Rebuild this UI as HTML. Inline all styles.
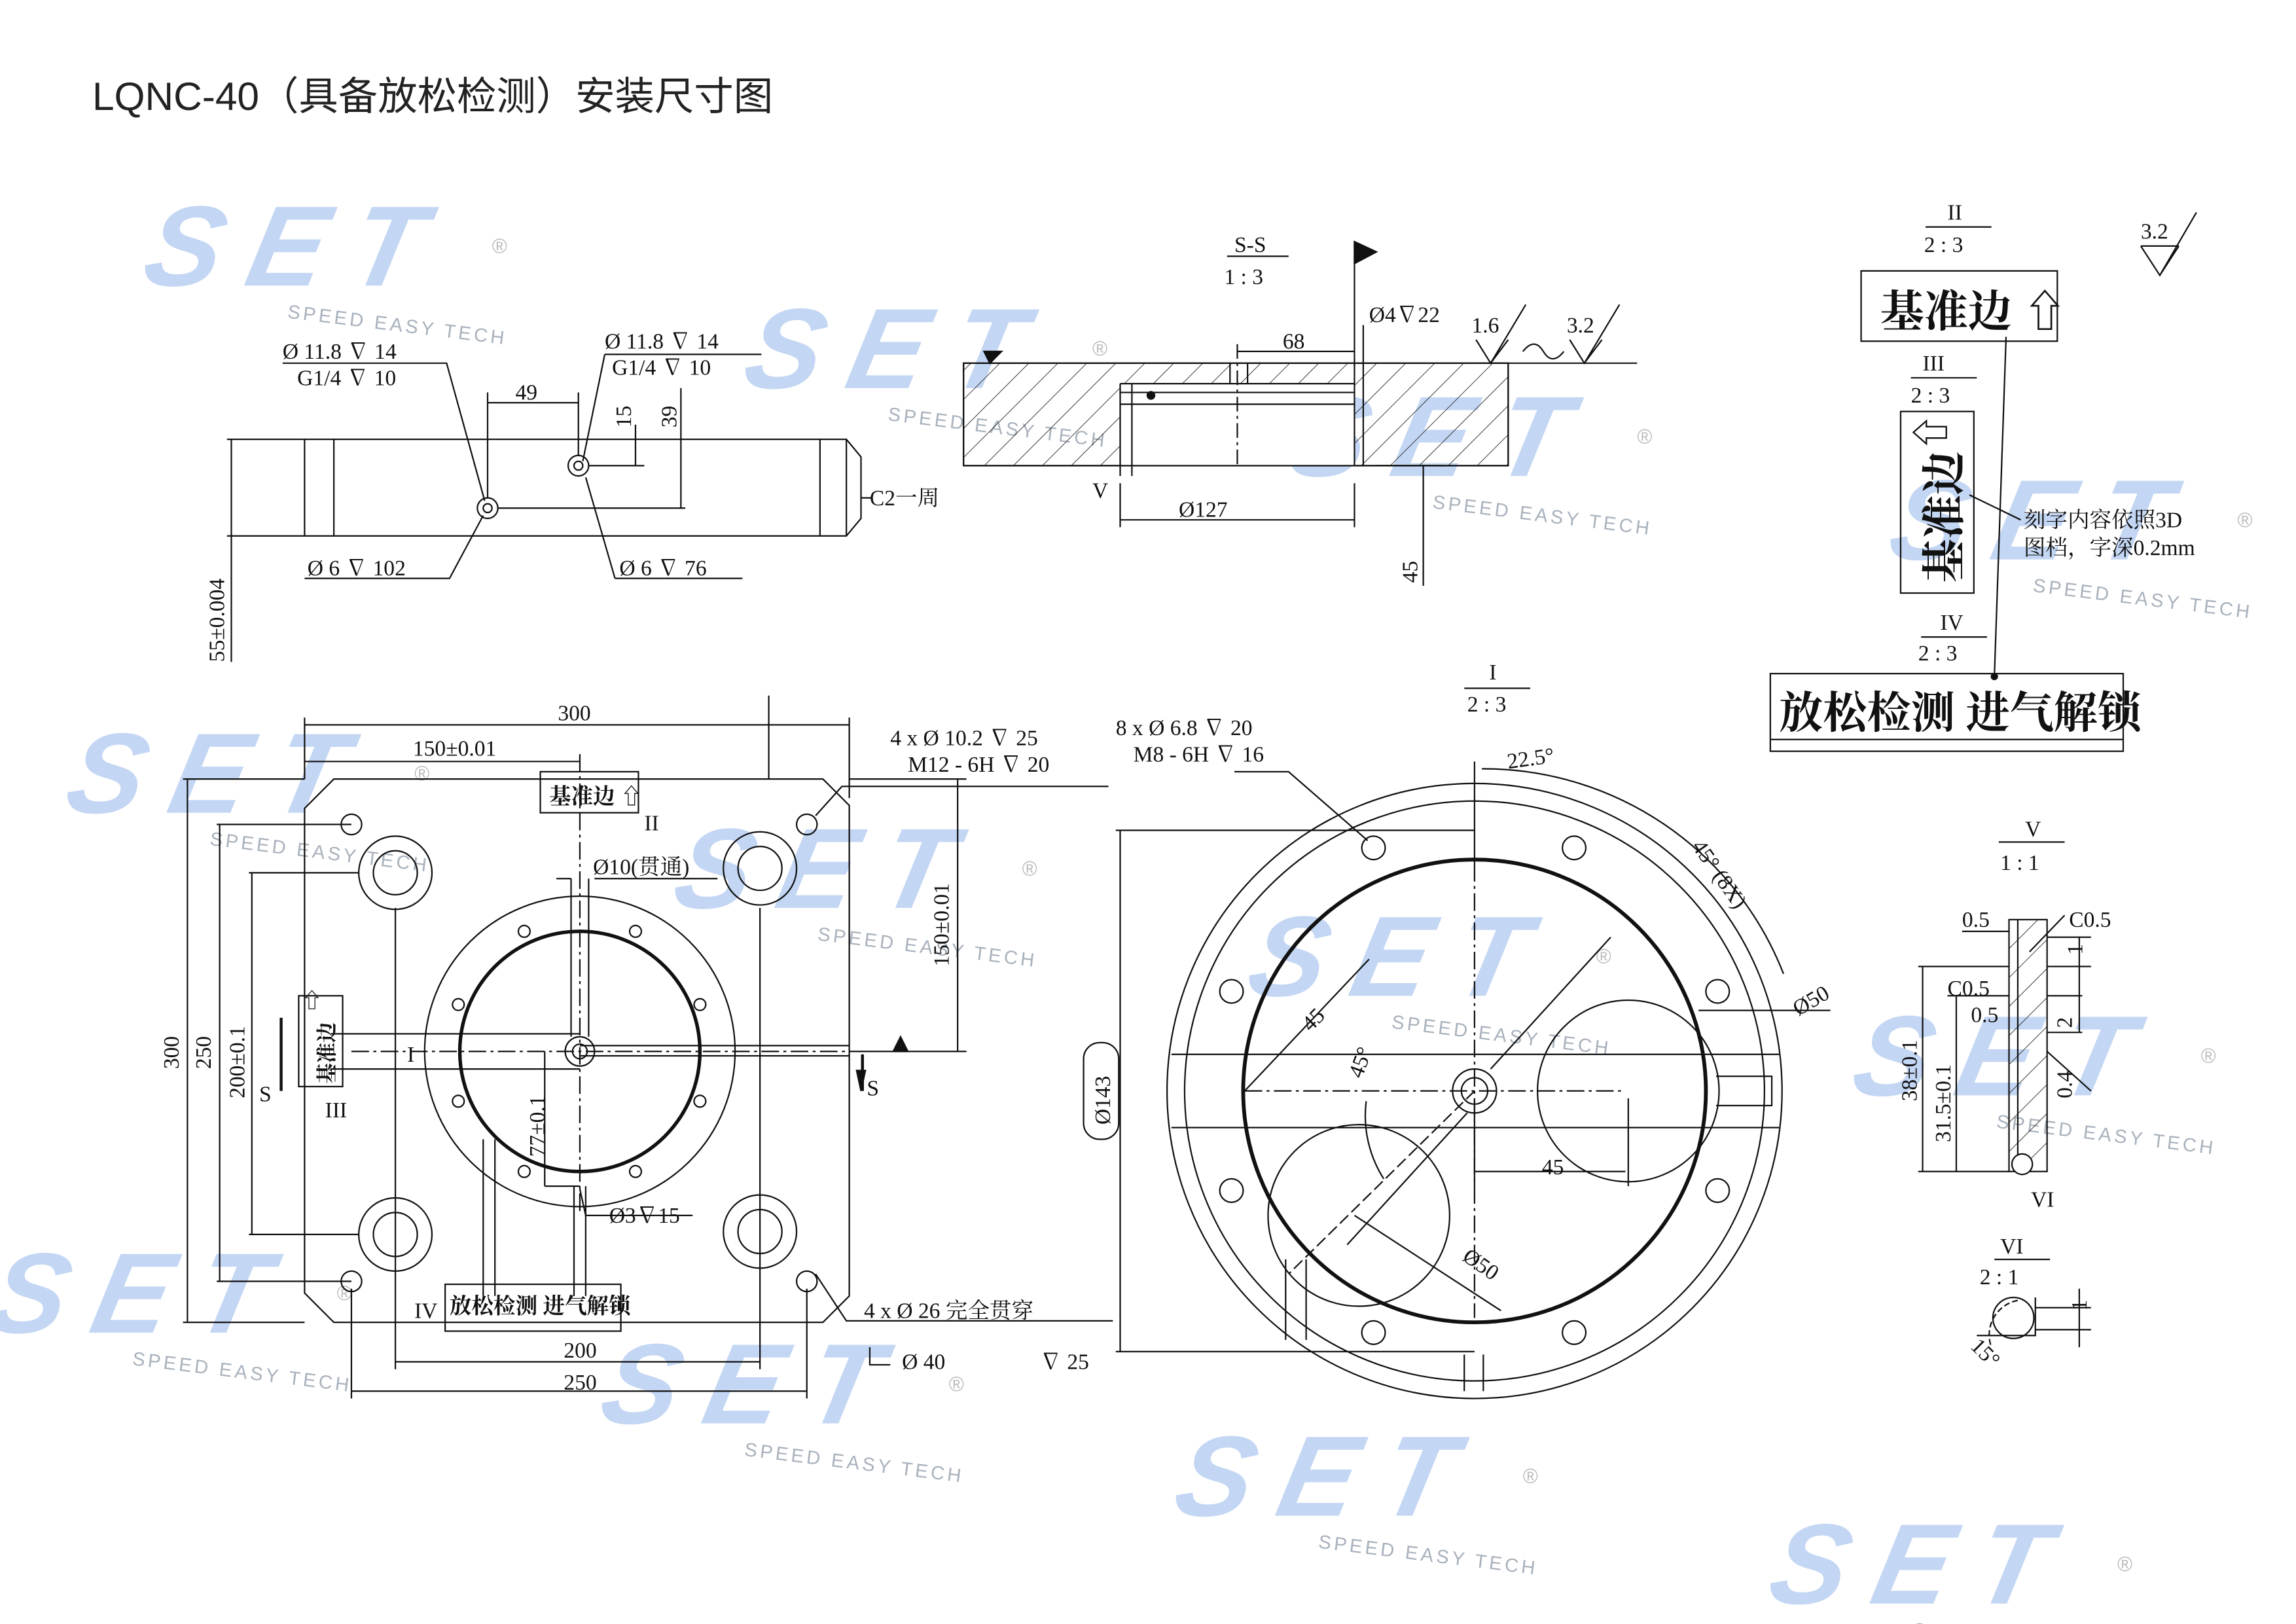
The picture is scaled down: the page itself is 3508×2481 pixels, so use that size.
<!DOCTYPE html>
<html><head><meta charset="utf-8"><style>
html,body{margin:0;padding:0;background:#fff}
svg{display:block}
text{font-family:"Liberation Serif","Noto Serif CJK SC",serif;fill:#111}
text.wa{font-family:"Liberation Sans",sans-serif;font-weight:bold;font-style:italic;fill:#c3d6f3}
text.wb{font-family:"Liberation Sans",sans-serif;fill:#a9b2bd}
text.wc{font-family:"Liberation Sans",sans-serif;fill:#bbbbbb}
</style></head><body>
<svg width="3508" height="2481" viewBox="0 0 1568 1109" preserveAspectRatio="none" xmlns="http://www.w3.org/2000/svg">
<defs>
<pattern id="h" width="14" height="14" patternUnits="userSpaceOnUse" patternTransform="rotate(45)"><line x1="0" y1="0" x2="0" y2="14" stroke="#222" stroke-width="0.8"/></pattern>
<g id="wm">
<text class="wa" x="0" y="60" font-size="78" letter-spacing="18" transform="skewX(-12)">SET</text>
<text class="wb" x="88" y="82" font-size="13" letter-spacing="2" transform="rotate(7 88 82)">SPEED EASY TECH</text>
<text class="wc" x="228" y="38" font-size="14">®</text>
</g>
</defs>
<rect width="1568" height="1109" fill="#fff"/>

<use href="#wm" x="108" y="135"/>
<use href="#wm" x="518" y="205"/>
<use href="#wm" x="890" y="265"/>
<use href="#wm" x="1300" y="322"/>
<use href="#wm" x="55" y="495"/>
<use href="#wm" x="470" y="560"/>
<use href="#wm" x="862" y="620"/>
<use href="#wm" x="1275" y="688"/>
<use href="#wm" x="2" y="850"/>
<use href="#wm" x="420" y="912"/>
<use href="#wm" x="812" y="975"/>
<use href="#wm" x="1218" y="1035"/>

<text x="63" y="75" font-size="27" style="font-family:'Liberation Sans','Noto Sans CJK SC',sans-serif;fill:#222">LQNC-40（具备放松检测）安装尺寸图</text>

<g fill="none" stroke="#111" stroke-width="1">
<path d="M208 300 H578 L588 312 V354 L578 366 H208 Z"/>
<line x1="228" y1="300" x2="228" y2="366"/><line x1="560" y1="300" x2="560" y2="366"/>
<line x1="578" y1="300" x2="578" y2="366"/>
<circle cx="333" cy="347" r="7"/><circle cx="333" cy="347" r="3"/>
<circle cx="395" cy="318" r="7"/><circle cx="395" cy="318" r="3"/>
<line x1="340" y1="347" x2="468" y2="347"/><line x1="402" y1="318" x2="440" y2="318"/>
<line x1="155" y1="300" x2="208" y2="300"/><line x1="155" y1="366" x2="208" y2="366"/>
<line x1="158" y1="300" x2="158" y2="452"/>
<line x1="333" y1="268" x2="333" y2="340"/><line x1="395" y1="268" x2="395" y2="311"/>
<line x1="333" y1="275" x2="395" y2="275"/>
<line x1="434" y1="290" x2="434" y2="318"/><line x1="465" y1="265" x2="465" y2="347"/>
<path d="M193 248 H305 L331 342"/><path d="M413 242 H520"/><path d="M413 242 L398 315"/>
<path d="M208 395 H307 L330 352"/><path d="M420 395 H507 M420 395 L400 326"/>
<path d="M588 340 H596"/>

<rect x="658" y="248" width="372" height="70" fill="url(#h)"/>
<rect x="765" y="262" width="160" height="56" fill="#fff" stroke="none"/>
<rect x="658" y="248" width="372" height="70"/>
<line x1="765" y1="262" x2="925" y2="262"/><line x1="765" y1="262" x2="765" y2="325"/><line x1="773" y1="262" x2="773" y2="325"/>
<line x1="765" y1="268" x2="925" y2="268"/><line x1="765" y1="276" x2="925" y2="276"/>
<line x1="925" y1="248" x2="925" y2="318"/><line x1="931" y1="222" x2="931" y2="318"/>
<line x1="840" y1="248" x2="840" y2="262"/><line x1="852" y1="248" x2="852" y2="262"/>
<circle cx="786" cy="270" r="2.5" fill="#111"/>
<line x1="845" y1="240" x2="925" y2="240"/><line x1="845" y1="235" x2="845" y2="320" stroke-dasharray="10 3 2 3"/>
<line x1="765" y1="330" x2="765" y2="360"/><line x1="925" y1="330" x2="925" y2="360"/>
<line x1="765" y1="355" x2="925" y2="355"/>
<line x1="940" y1="318" x2="985" y2="318"/><line x1="972" y1="318" x2="972" y2="400"/>
<line x1="925" y1="165" x2="925" y2="250"/><path d="M925 165 L940 172 L925 180 Z" fill="#111"/>
<path d="M1008 248 H1118"/><path d="M1008 232 L1018 248 L1030 232 M1018 248 L1042 208"/>
<path d="M1072 232 L1082 248 L1094 232 M1082 248 L1106 208"/>
<path d="M1040 240 q8 -10 14 0 q6 10 14 0"/>
<path d="M676 248 L672 240 H684 Z" fill="#111"/>
<line x1="838" y1="175" x2="880" y2="175"/>

<path d="M228 532 H562 L580 550 V885 L562 903 H228 L208 883 V552 Z"/>
<line x1="208" y1="490" x2="208" y2="532"/><line x1="580" y1="490" x2="580" y2="545"/>
<line x1="208" y1="495" x2="580" y2="495"/><line x1="208" y1="520" x2="396" y2="520"/>
<line x1="525" y1="475" x2="525" y2="532"/>
<circle cx="270" cy="596" r="25"/><circle cx="270" cy="596" r="15"/>
<circle cx="519" cy="593" r="25"/><circle cx="519" cy="593" r="15"/>
<circle cx="270" cy="843" r="25"/><circle cx="270" cy="843" r="15"/>
<circle cx="519" cy="841" r="25"/><circle cx="519" cy="841" r="15"/>
<circle cx="240" cy="563" r="7"/><circle cx="551" cy="563" r="7"/>
<circle cx="240" cy="875" r="7"/><circle cx="551" cy="875" r="7"/>
<circle cx="396" cy="718" r="106"/>
<circle cx="396" cy="718" r="82" stroke-width="2.4"/>
<circle cx="396" cy="718" r="10"/><circle cx="396" cy="718" r="5"/>
<circle cx="358" cy="636" r="4"/><circle cx="434" cy="636" r="4"/><circle cx="313" cy="686" r="4"/><circle cx="478" cy="686" r="4"/>
<circle cx="313" cy="752" r="4"/><circle cx="478" cy="752" r="4"/><circle cx="358" cy="800" r="4"/><circle cx="434" cy="800" r="4"/>
<path d="M226 706 H396 M226 730 H396" />
<line x1="396" y1="714" x2="580" y2="714"/><line x1="396" y1="721" x2="580" y2="721"/>
<line x1="390" y1="600" x2="390" y2="708"/><line x1="402" y1="600" x2="402" y2="708"/>
<line x1="396" y1="515" x2="396" y2="830" stroke-dasharray="12 3 2 3"/>
<line x1="240" y1="718" x2="580" y2="718" stroke-dasharray="12 3 2 3"/>
<line x1="330" y1="778" x2="330" y2="885"/><line x1="338" y1="778" x2="338" y2="885"/>
<line x1="392" y1="810" x2="392" y2="885"/><line x1="400" y1="810" x2="400" y2="885"/>
<line x1="270" y1="620" x2="270" y2="935"/><line x1="519" y1="620" x2="519" y2="935"/>
<line x1="240" y1="880" x2="240" y2="955"/><line x1="551" y1="880" x2="551" y2="955"/>
<line x1="270" y1="930" x2="519" y2="930"/><line x1="240" y1="950" x2="551" y2="950"/>
<line x1="125" y1="532" x2="208" y2="532"/><line x1="125" y1="903" x2="208" y2="903"/>
<line x1="128" y1="532" x2="128" y2="903"/>
<line x1="148" y1="563" x2="240" y2="563"/><line x1="148" y1="875" x2="240" y2="875"/>
<line x1="150" y1="563" x2="150" y2="875"/>
<line x1="170" y1="596" x2="245" y2="596"/><line x1="170" y1="843" x2="245" y2="843"/>
<line x1="172" y1="596" x2="172" y2="843"/>
<line x1="580" y1="532" x2="660" y2="532"/><line x1="580" y1="718" x2="660" y2="718"/>
<line x1="654" y1="532" x2="654" y2="718"/>
<line x1="372" y1="718" x2="372" y2="810"/><line x1="396" y1="810" x2="372" y2="810"/>
<line x1="192" y1="695" x2="192" y2="745" stroke-width="2"/>
<line x1="589" y1="720" x2="589" y2="745" stroke-width="2"/>
<path d="M588 745 l-3 -14 h6 z" fill="#111"/>
<path d="M620 718 l-5 -10 l-5 10 z" fill="#111"/>
<path d="M406 600 H490 M380 600 H390"/>
<path d="M557 557 L575 537 H757"/><path d="M557 870 L578 902 H760"/>
<path d="M396 812 L400 830 H473"/>
<rect x="369" y="527" width="67" height="28"/>
<rect x="304" y="877" width="120" height="32"/>
<rect x="204" y="680" width="30" height="62"/>
<path d="M594 920 V932 H608"/>

<circle cx="1007" cy="745" r="210"/>
<circle cx="1007" cy="745" r="198"/>
<circle cx="1007" cy="745" r="158" stroke-width="2.6"/>
<circle cx="1007" cy="745" r="15"/><circle cx="1007" cy="745" r="9"/>
<circle cx="938" cy="579" r="8"/><circle cx="1075" cy="579" r="8"/><circle cx="1173" cy="677" r="8"/><circle cx="1173" cy="813" r="8"/>
<circle cx="1075" cy="910" r="8"/><circle cx="938" cy="910" r="8"/><circle cx="841" cy="813" r="8"/><circle cx="841" cy="677" r="8"/>
<line x1="800" y1="720" x2="1215" y2="720"/><line x1="800" y1="770" x2="1215" y2="770"/>
<line x1="1018" y1="730" x2="1100" y2="640"/><line x1="1002" y1="760" x2="920" y2="850"/>
<circle cx="1112" cy="745" r="62"/><circle cx="928" cy="830" r="62"/>
<line x1="850" y1="745" x2="1110" y2="745" stroke-dasharray="12 3 2 3"/>
<line x1="1007" y1="590" x2="1007" y2="900" stroke-dasharray="12 3 2 3"/>
<line x1="1007" y1="520" x2="1007" y2="590"/>
<line x1="1007" y1="800" x2="1110" y2="800"/>
<line x1="1007" y1="750" x2="1007" y2="810"/><line x1="1112" y1="750" x2="1112" y2="810"/>
<line x1="1007" y1="745" x2="880" y2="870" stroke-dasharray="8 3"/>
<line x1="925" y1="830" x2="1025" y2="895"/>
<line x1="850" y1="745" x2="935" y2="655"/>
<path d="M933 752 A80 80 0 0 0 945 805"/>
<path d="M1012 525 A220 220 0 0 1 1218 665"/>
<line x1="1160" y1="690" x2="1250" y2="690"/>
<path d="M878 860 V915 M892 860 V915"/><path d="M1000 925 V950 M1013 925 V950"/>
<path d="M1172 735 H1210 V755 H1172"/>
<line x1="762" y1="567" x2="1007" y2="567"/><line x1="762" y1="923" x2="1007" y2="923"/>
<line x1="765" y1="567" x2="765" y2="923"/>
<rect x="740" y="712" width="24" height="66" rx="11"/>
<path d="M843 527 H880 L934 574"/>
<line x1="1000" y1="470" x2="1045" y2="470"/>

<line x1="1315" y1="155" x2="1360" y2="155"/>
<rect x="1271" y="185" width="134" height="48"/>
<line x1="1305" y1="258" x2="1350" y2="258"/>
<rect x="1298" y="281" width="50" height="124"/>
<line x1="1312" y1="435" x2="1357" y2="435"/>
<rect x="1209" y="460" width="241" height="53"/><line x1="1209" y1="505" x2="1450" y2="505"/>
<line x1="1365" y1="575" x2="1410" y2="575"/>
<rect x="1372" y="628" width="26" height="172" fill="url(#h)"/>
<line x1="1378" y1="628" x2="1378" y2="800"/>
<circle cx="1381" cy="795" r="7" fill="#fff"/>
<line x1="1310" y1="660" x2="1372" y2="660"/><line x1="1310" y1="800" x2="1372" y2="800"/>
<line x1="1330" y1="680" x2="1372" y2="680"/>
<line x1="1313" y1="660" x2="1313" y2="800"/><line x1="1336" y1="680" x2="1336" y2="800"/>
<line x1="1340" y1="636" x2="1372" y2="636"/>
<line x1="1398" y1="640" x2="1428" y2="640"/><line x1="1398" y1="660" x2="1428" y2="660"/>
<line x1="1398" y1="680" x2="1422" y2="680"/><line x1="1398" y1="705" x2="1422" y2="705"/>
<line x1="1420" y1="640" x2="1420" y2="705"/>
<path d="M1386 650 L1410 625"/><path d="M1398 718 L1428 745"/>
<line x1="1362" y1="860" x2="1400" y2="860"/>
<path d="M1390 886 V912 H1350"/><path d="M1378 888 A24 24 0 0 0 1360 920" stroke-dasharray="4 2"/>
<circle cx="1375" cy="900" r="14"/>
<line x1="1390" y1="893" x2="1428" y2="893"/><line x1="1390" y1="908" x2="1428" y2="908"/>
<line x1="1420" y1="880" x2="1420" y2="920"/>
<path d="M1462 168 L1475 188 L1488 168 M1475 188 L1500 145 M1462 168 H1488"/>
<line x1="1370" y1="230" x2="1362" y2="462"/><circle cx="1362" cy="462" r="2" fill="#111"/>
<line x1="1345" y1="338" x2="1380" y2="355"/>
</g>

<g font-size="15">
<text x="193" y="245">Ø 11.8 ∇ 14</text><text x="203" y="263">G1/4 ∇ 10</text>
<text x="413" y="238">Ø 11.8 ∇ 14</text><text x="418" y="256">G1/4 ∇ 10</text>
<text x="352" y="273">49</text>
<text x="431" y="292" transform="rotate(-90 431 292)">15</text>
<text x="462" y="292" transform="rotate(-90 462 292)">39</text>
<text x="594" y="345">C2一周</text>
<text x="210" y="393">Ø 6 ∇ 102</text><text x="423" y="393">Ø 6 ∇ 76</text>
<text x="153" y="452" transform="rotate(-90 153 452)">55±0.004</text>
<text x="843" y="172">S-S</text><text x="836" y="194">1 : 3</text>
<text x="876" y="238">68</text>
<text x="935" y="220">Ø4∇22</text>
<text x="1005" y="227">1.6</text><text x="1070" y="227">3.2</text>
<text x="746" y="340">V</text>
<text x="805" y="353">Ø127</text>
<text x="968" y="398" transform="rotate(-90 968 398)">45</text>
<text x="381" y="492">300</text>
<text x="282" y="516">150±0.01</text>
<text x="608" y="509">4 x Ø 10.2 ∇ 25</text><text x="620" y="527">M12 - 6H ∇ 20</text>
<text x="762" y="502">8 x Ø 6.8 ∇ 20</text><text x="774" y="520">M8 - 6H ∇ 16</text>
<text x="440" y="567">II</text>
<text x="405" y="597">Ø10(贯通)</text>
<text x="648" y="660" transform="rotate(-90 648 660)">150±0.01</text>
<text x="122" y="730" transform="rotate(-90 122 730)">300</text>
<text x="144" y="730" transform="rotate(-90 144 730)">250</text>
<text x="167" y="750" transform="rotate(-90 167 750)">200±0.1</text>
<text x="177" y="752">S</text><text x="592" y="748">S</text>
<text x="278" y="725">I</text>
<text x="222" y="763">III</text>
<text x="372" y="790" transform="rotate(-90 372 790)">77±0.1</text>
<text x="416" y="835">Ø3∇15</text>
<text x="283" y="900">IV</text>
<text x="385" y="927">200</text><text x="385" y="949">250</text>
<text x="590" y="900">4 x Ø 26 完全贯穿</text>
<text x="616" y="935">Ø 40</text><text x="710" y="935">∇ 25</text>
<text x="1017" y="464">I</text><text x="1002" y="486">2 : 3</text>
<text x="1030" y="525" transform="rotate(-8 1030 525)">22.5°</text>
<text x="1155" y="578" transform="rotate(55 1155 578)">45° (8X)</text>
<text x="1228" y="694" transform="rotate(-30 1228 694)">Ø50</text>
<text x="895" y="705" transform="rotate(-45 895 705)">45</text>
<text x="930" y="737" transform="rotate(-70 930 737)">45°</text>
<text x="1053" y="802">45</text>
<text x="998" y="860" transform="rotate(35 998 860)">Ø50</text>
<text x="758" y="768" transform="rotate(-90 758 768)">Ø143</text>
<text x="1330" y="150">II</text><text x="1314" y="172">2 : 3</text>
<text x="1313" y="253">III</text><text x="1305" y="275">2 : 3</text>
<text x="1325" y="430">IV</text><text x="1310" y="451">2 : 3</text>
<text x="1382" y="360">刻字内容依照3D</text><text x="1382" y="379">图档，字深0.2mm</text>
<text x="1462" y="163">3.2</text>
<text x="1383" y="571">V</text><text x="1366" y="594">1 : 1</text>
<text x="1340" y="633">0.5</text><text x="1413" y="633">C0.5</text>
<text x="1330" y="680">C0.5</text><text x="1346" y="698">0.5</text>
<text x="1422" y="652" transform="rotate(-90 1422 652)">1</text>
<text x="1415" y="702" transform="rotate(-90 1415 702)">2</text>
<text x="1415" y="750" transform="rotate(-90 1415 750)">0.4</text>
<text x="1309" y="752" transform="rotate(-90 1309 752)">38±0.1</text>
<text x="1332" y="780" transform="rotate(-90 1332 780)">31.5±0.1</text>
<text x="1387" y="824">VI</text>
<text x="1366" y="856">VI</text><text x="1352" y="877">2 : 1</text>
<text x="1425" y="895" transform="rotate(-90 1425 895)">1</text>
<text x="1345" y="920" transform="rotate(45 1345 920)">15°</text>
</g>
<g font-weight="bold">
<text x="375" y="549" font-size="15">基准边 ⇧</text>
<text x="307" y="897" font-size="15">放松检测 进气解锁</text>
<text x="206" y="688" font-size="14">⇧</text>
<text x="228" y="740" font-size="14" transform="rotate(-90 228 740)">基准边</text>
<text x="1284" y="223" font-size="30">基准边 ⇧</text>
<text x="1305" y="305" font-size="26">⇦</text>
<text x="1338" y="398" font-size="30" transform="rotate(-90 1338 398)">基准边</text>
<text x="1215" y="497" font-size="30">放松检测 进气解锁</text>
</g>
</svg>
</body></html>
